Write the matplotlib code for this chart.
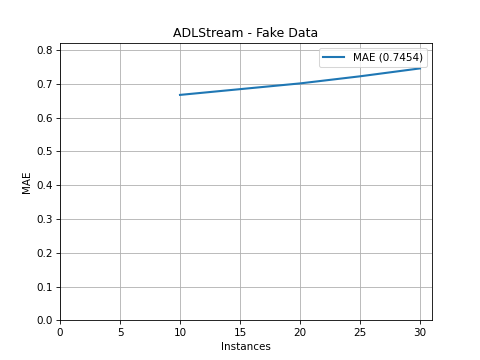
import matplotlib
matplotlib.use('Agg')
import matplotlib.pyplot as plt

instances = [10, 15, 20, 25, 30]
mae = [0.667, 0.684, 0.701, 0.722, 0.7454]

fig, ax = plt.subplots(figsize=(6.4, 4.8), dpi=75)
ax.plot(instances, mae, label='MAE ({:.4f})'.format(mae[-1]), linewidth=2)
ax.set_title('ADLStream - Fake Data')
ax.set_xlabel('Instances')
ax.set_ylabel('MAE')
ax.set_xlim(0, 31)
ax.set_ylim(0, max(mae) * 1.1)
ax.grid(True)
ax.legend(loc='upper right')

fig.savefig('out.png', dpi=75)
